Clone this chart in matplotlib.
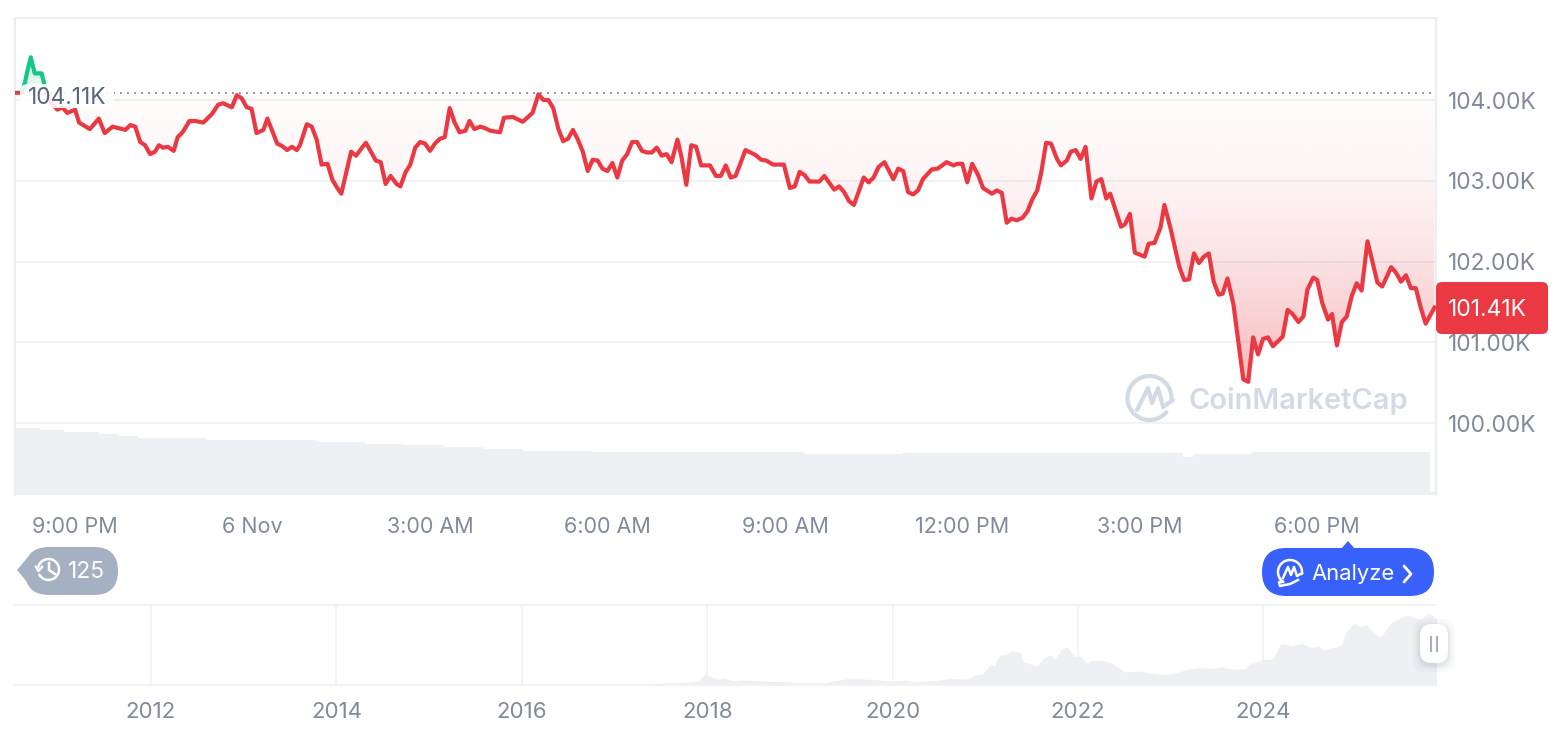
import numpy as np
import matplotlib
matplotlib.use("Agg")
from matplotlib import pyplot as plt
from matplotlib.patches import FancyBboxPatch, Polygon, Rectangle

plt.rcParams['font.family'] = ['Inter', 'DejaVu Sans']

# price since 8 PM, minutes / thousands of USD
minutes = [0, 7, 10, 12, 16, 20, 27, 28, 32, 36, 43, 48, 53, 61, 65, 76, 85, 91, 99, 112, 117, 122, 127, 132, 137, 142,
           146, 150, 155, 161, 165, 170, 177, 183, 191, 200, 206, 211, 220, 225, 230, 235, 240, 245, 252, 256, 266,
           271, 276, 281, 286, 289, 296, 301, 306, 311, 317, 322, 327, 331, 341, 346, 352, 356, 366, 371, 376, 381,
           387, 391, 396, 401, 406, 411, 416, 421, 426, 431, 436, 441, 446, 451, 457, 461, 466, 472, 477, 482, 492,
           496, 505, 515, 525, 531, 536, 541, 546, 551, 556, 561, 566, 571, 576, 581, 586, 591, 596, 601, 606, 611,
           616, 621, 626, 631, 636, 641, 646, 651, 656, 661, 666, 672, 676, 681, 686, 691, 696, 705, 711, 716, 721,
           726, 731, 741, 751, 757, 762, 769, 780, 786, 791, 796, 801, 806, 816, 821, 831, 836, 841, 846, 851, 861,
           866, 871, 876, 882, 891, 896, 901, 906, 911, 916, 921, 930, 936, 945, 952, 956, 961, 966, 971, 977, 982,
           991, 996, 1001, 1006, 1011, 1016, 1022, 1027, 1032, 1037, 1041, 1046, 1051, 1057, 1061, 1067, 1071, 1076,
           1081, 1086, 1092, 1097, 1102, 1107, 1111, 1122, 1126, 1131, 1136, 1146, 1150, 1156, 1162, 1166, 1172, 1181,
           1186, 1191, 1196, 1201, 1206, 1211, 1216, 1221, 1225, 1230, 1236, 1246, 1251, 1256, 1261, 1266, 1271, 1276,
           1286, 1291, 1296, 1302, 1307, 1311, 1317, 1321, 1326, 1332, 1336, 1341, 1346, 1351, 1356, 1361, 1366, 1372,
           1377, 1382, 1387, 1396, 1401, 1406, 1411, 1416, 1421, 1426, 1431, 1440]
prices = [104.09, 104.09, 104.21, 104.33, 104.53, 104.33, 104.33, 104.28, 104.09, 103.98, 103.88, 103.91, 103.84,
          103.88, 103.72, 103.64, 103.77, 103.59, 103.67, 103.63, 103.69, 103.67, 103.48, 103.44, 103.33, 103.36,
          103.44, 103.41, 103.42, 103.37, 103.54, 103.60, 103.74, 103.74, 103.72, 103.83, 103.94, 103.96, 103.91,
          104.06, 104.02, 103.91, 103.89, 103.59, 103.63, 103.77, 103.46, 103.43, 103.38, 103.42, 103.38, 103.44,
          103.70, 103.67, 103.51, 103.20, 103.21, 103.01, 102.91, 102.84, 103.36, 103.31, 103.41, 103.47, 103.25,
          103.23, 102.96, 103.06, 102.96, 102.93, 103.10, 103.20, 103.41, 103.48, 103.46, 103.37, 103.46, 103.52,
          103.54, 103.90, 103.72, 103.60, 103.62, 103.74, 103.64, 103.67, 103.65, 103.62, 103.60, 103.78, 103.79,
          103.73, 103.84, 104.07, 104.00, 104.00, 103.90, 103.65, 103.49, 103.52, 103.63, 103.51, 103.36, 103.12,
          103.26, 103.25, 103.15, 103.12, 103.22, 103.04, 103.25, 103.33, 103.48, 103.48, 103.37, 103.35, 103.35,
          103.41, 103.31, 103.33, 103.23, 103.51, 103.30, 102.95, 103.44, 103.42, 103.19, 103.19, 103.06, 103.06,
          103.19, 103.04, 103.06, 103.38, 103.32, 103.26, 103.25, 103.20, 103.20, 102.91, 102.93, 103.11, 103.07,
          102.99, 102.99, 103.06, 102.89, 102.93, 102.86, 102.75, 102.70, 103.04, 102.98, 103.04, 103.17, 103.23,
          103.02, 103.15, 103.12, 102.86, 102.83, 102.88, 103.02, 103.14, 103.15, 103.23, 103.19, 103.21, 103.21,
          102.98, 103.21, 103.07, 102.91, 102.84, 102.88, 102.85, 102.48, 102.53, 102.51, 102.54, 102.62, 102.77,
          102.88, 103.10, 103.47, 103.46, 103.27, 103.19, 103.25, 103.36, 103.38, 103.27, 103.42, 102.78, 102.99,
          103.02, 102.78, 102.84, 102.43, 102.46, 102.59, 102.11, 102.06, 102.22, 102.23, 102.42, 102.70, 102.42,
          101.94, 101.77, 101.78, 102.10, 101.98, 102.06, 102.10, 101.75, 101.59, 101.60, 101.79, 101.47, 100.54,
          100.51, 101.06, 100.85, 101.04, 101.06, 100.95, 101.07, 101.40, 101.35, 101.25, 101.32, 101.65, 101.80,
          101.77, 101.49, 101.28, 101.35, 100.96, 101.25, 101.32, 101.57, 101.73, 101.64, 102.25, 102.00, 101.74,
          101.69, 101.93, 101.86, 101.75, 101.83, 101.67, 101.67, 101.43, 101.23, 101.43]
ref_price = 104.09

# volume, one bar per 5 minutes, stored as runs of equal height
vol_levels = [67, 65, 63, 61, 59, 57, 55, 53, 51, 50, 48, 46, 44, 43, 41, 42, 38, 41, 43, 3, 43]
vol_counts = [5, 5, 7, 4, 4, 14, 22, 10, 8, 8, 8, 8, 14, 43, 20, 57, 2, 12, 36, 1, 1]

y_ticks = [100, 101, 102, 103, 104]
y_labels = ['100.00K', '101.00K', '102.00K', '103.00K', '104.00K']
time_ticks = [61, 241, 421, 601, 781, 961, 1141, 1321]
time_labels = ['9:00 PM', '6 Nov', '3:00 AM', '6:00 AM', '9:00 AM', '12:00 PM', '3:00 PM', '6:00 PM']

# all-time overview
mini_years = [2010.53, 2015.77, 2016.85, 2017.57, 2017.75, 2017.90, 2017.98, 2018.04, 2018.11, 2018.18, 2018.29,
              2018.36, 2018.58, 2018.90, 2018.93, 2019.26, 2019.37, 2019.53, 2019.62, 2019.73, 2019.98, 2020.16,
              2020.23, 2020.44, 2020.63, 2020.81, 2020.92, 2020.97, 2021.06, 2021.10, 2021.13, 2021.17, 2021.20,
              2021.29, 2021.38, 2021.41, 2021.47, 2021.51, 2021.56, 2021.64, 2021.71, 2021.75, 2021.82, 2021.88,
              2021.96, 2022.03, 2022.10, 2022.14, 2022.21, 2022.25, 2022.36, 2022.41, 2022.50, 2022.68, 2022.79,
              2022.93, 2023.04, 2023.15, 2023.29, 2023.47, 2023.54, 2023.69, 2023.80, 2023.85, 2024.01, 2024.10,
              2024.19, 2024.30, 2024.41, 2024.52, 2024.59, 2024.64, 2024.84, 2024.89, 2024.98, 2025.04, 2025.11,
              2025.24, 2025.29, 2025.38, 2025.54, 2025.63, 2025.69, 2025.79, 2025.87]
mini_prices = [0.0, 0.3, 0.85, 3.4, 4.25, 6.8, 18.7, 14.4, 10.2, 11.9, 6.8, 8.5, 6.8, 5.1, 3.4, 3.4, 6.8, 11.1, 11.9,
               10.2, 6.8, 8.5, 5.1, 7.6, 11.1, 10.2, 18.7, 18.7, 35.7, 32.3, 43.7, 52.7, 51, 58.4, 55, 39.7, 36.9,
               34, 32.9, 47.1, 51, 43.7, 60.7, 65.2, 48.2, 48.2, 36.9, 42.5, 41.4, 42.5, 38, 32.3, 22.1, 23.8, 19.8,
               17.6, 19.8, 25.5, 29.5, 28.4, 31.2, 26.6, 27.8, 35.2, 43.7, 43.7, 70.9, 66.3, 70.9, 63.5, 66.3, 59.5,
               67.5, 89, 104.9, 99.2, 102.1, 82.2, 86.2, 106, 118.5, 114.5, 111.7, 123, 111.7]
mini_ticks = [2012, 2014, 2016, 2018, 2020, 2022, 2024]

RED = '#ea3943'
GREEN = '#16c784'
GREY = '#808a9d'
W, H = 1566, 732


def px_axes(x0, y0, x1, y1, **kw):
    return fig.add_axes([x0 / W, 1 - y1 / H, (x1 - x0) / W, (y1 - y0) / H], **kw)


def gradient(ax, color, alpha, ymin, ymax, clip):
    rgba = np.zeros((256, 1, 4))
    rgba[..., :3] = matplotlib.colors.to_rgb(color)
    rgba[..., 3] = alpha[:, None]
    im = ax.imshow(rgba, extent=[0, 1441.5, ymin, ymax], origin='upper', aspect='auto', zorder=1.5)
    im.set_clip_path(clip.get_paths()[0], transform=ax.transData)


fig = plt.figure(figsize=(W / 100, H / 100), dpi=100)

# main chart
ax = px_axes(15, 18, 1436, 495)
m = np.array(minutes, dtype=float)
p = np.array(prices)

vol_ax = ax.twinx()
vol_ax.set_ylim(0, 477)
vol_heights = np.repeat(vol_levels, vol_counts)
vol_ax.bar(np.arange(len(vol_heights)) * 5 + 2.5, vol_heights, width=5, color='#eef1f4', linewidth=0)
vol_ax.axis('off')
ax.set_zorder(vol_ax.get_zorder() + 1)
ax.patch.set_visible(False)

ax.set_xlim(0, 1441.5)
ax.set_ylim(104 - 395 / 80.75, 104 + 82 / 80.75)
for t in y_ticks:
    ax.axhline(t, color='#f0f2f4', lw=1.5, zorder=1)

low = ax.fill_between(m, np.minimum(p, ref_price), ref_price, facecolor='none', linewidth=0)
high = ax.fill_between(m, np.maximum(p, ref_price), ref_price, facecolor='none', linewidth=0)
gradient(ax, RED, 0.02 + 0.34 * np.linspace(0, 1, 256) ** 1.8, p.min(), ref_price, low)
gradient(ax, GREEN, np.linspace(0.30, 0.03, 256), ref_price, p.max(), high)

ax.axhline(ref_price, color='#8f98a8', lw=1.4, ls=(0, (1, 2.6)), zorder=2)

line_red, = ax.plot(m, p, color=RED, lw=3, solid_joinstyle='round', zorder=3)
line_green, = ax.plot(m, p, color=GREEN, lw=3, solid_joinstyle='round', zorder=3)
line_red.set_clip_path(Rectangle((0, 90), 1441.5, ref_price + 0.02 - 90, transform=ax.transData))
line_green.set_clip_path(Rectangle((0, ref_price + 0.02), 1441.5, 10, transform=ax.transData))

ax.spines['bottom'].set_visible(False)
for s in ['top', 'left', 'right']:
    ax.spines[s].set_color('#eceff2')
    ax.spines[s].set_linewidth(1.5)

ax.yaxis.tick_right()
ax.set_yticks(y_ticks, y_labels, color=GREY, fontsize=16.3)
ax.set_xticks(time_ticks, time_labels, color=GREY, fontsize=15.5)
ax.tick_params(axis='y', length=0, pad=8.6)
ax.tick_params(axis='x', length=0, pad=16)

# all-time strip
mini = px_axes(15, 605, 1436, 685)
mini.set_xlim(2010.533, 2025.862)
mini.set_ylim(0, 136)
mini.fill_between(mini_years, mini_prices, 0, color='#eef0f3', linewidth=0, zorder=2)
for yr in mini_ticks:
    mini.axvline(yr, color='#f3f4f6', lw=1.5, zorder=1)
mini.set_yticks([])
mini.set_xticks(mini_ticks, [str(y) for y in mini_ticks], color=GREY, fontsize=16)
mini.tick_params(axis='x', length=0, pad=12)
for s in ['left', 'right']:
    mini.spines[s].set_visible(False)
for s in ['top', 'bottom']:
    mini.spines[s].set_color('#f1f2f4')
    mini.spines[s].set_linewidth(1.5)

# overlay in pixels for the page furniture
ui = fig.add_axes([0, 0, 1, 1], zorder=10)
ui.set_xlim(0, W)
ui.set_ylim(H, 0)
ui.axis('off')


def pill(x0, y0, x1, y1, r, color, **kw):
    ui.add_patch(FancyBboxPatch((x0 + r, y0 + r), x1 - x0 - 2 * r, y1 - y0 - 2 * r,
                                boxstyle=f'round,pad={r},rounding_size={r}', facecolor=color, edgecolor='none', **kw))


def ring(cx, cy, r, start, end, color, lw):
    th = np.radians(np.linspace(start, end, 80))
    ui.plot(cx + r * np.cos(th), cy - r * np.sin(th), color=color, lw=lw, solid_capstyle='round')


# start price label
pill(20, 84, 114, 108, 8, 'white', alpha=0.88)
ui.text(28, 98, '104.11K', color='#58667e', fontsize=16.3, va='center', ha='left')

# last price tag
pill(1436, 282, 1548, 334, 6, RED)
ui.text(1448, 310, '101.41K', color='white', fontsize=16.5, va='center', ha='left')

# watermark
ring(1149.5, 398, 22, -5, 320, '#d3dae6', 3)
ui.plot([1137, 1148, 1152, 1158, 1163, 1173], [410, 388, 403, 388, 407, 400], color='#d3dae6', lw=3,
        solid_joinstyle='round', solid_capstyle='round')
ui.text(1188, 401, 'CoinMarketCap', color='#d3dae6', fontsize=20.9, fontweight='semibold', va='center', ha='left')

# history pill
pill(25, 547, 118, 595, 24, '#a6b0c3')
ui.add_patch(Polygon([[17, 570], [32, 552], [32, 588]], facecolor='#a6b0c3', edgecolor='none'))
ring(48.5, 569.5, 10.5, -150, 165, 'white', 1.8)
ui.plot([49, 49, 55], [563, 570, 574], color='white', lw=1.8)
ui.plot([36, 38.5, 42], [567, 571, 567], color='white', lw=1.8)
ui.text(68, 572, '125', color='white', fontsize=16.5, va='center', ha='left')

# analyze button
pill(1262, 548, 1434, 596, 24, '#3861fb')
ui.add_patch(Polygon([[1341, 549], [1348, 541], [1355, 549]], facecolor='#3861fb', edgecolor='none'))
ring(1290, 572, 12, -10, 235, 'white', 1.8)
ui.plot([1283, 1279, 1280, 1290, 1298], [582, 582, 586, 584, 580], color='white', lw=1.8)
ui.plot([1283, 1288, 1291, 1294, 1297, 1302], [578, 567, 575, 567, 576, 573], color='white', lw=1.8,
        solid_joinstyle='round')
ui.text(1311, 574, 'Analyze', color='white', fontsize=15.8, va='center', ha='left')
ui.plot([1404, 1411, 1404], [566, 574, 582], color='white', lw=2, solid_capstyle='round', solid_joinstyle='round')

# range handle
for grow, alpha in [(7, 0.04), (4, 0.05), (2, 0.07)]:
    pill(1420 - grow, 624 - grow + 2, 1448 + grow, 663 + grow + 2, 14, '#58667e', alpha=alpha)
pill(1420, 624, 1448, 663, 12, 'white')
ui.plot([1431, 1431], [637, 651], color='#a6b0c3', lw=1.5)
ui.plot([1437, 1437], [637, 651], color='#a6b0c3', lw=1.5)

fig.savefig('out.png', dpi=100)
